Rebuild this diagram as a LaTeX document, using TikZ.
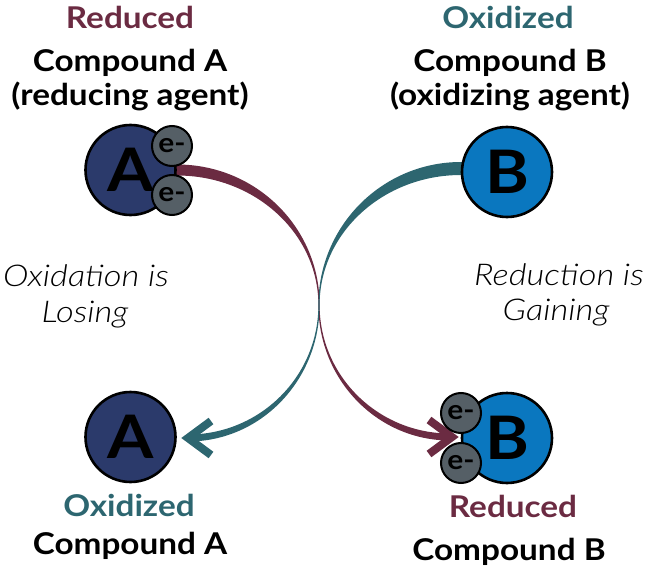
\documentclass[tikz,border=0pt]{standalone}
\usepackage{fontspec}
\setmainfont{Lato}
\newfontfamily\labfont[FakeStretch=1.11]{Lato}
\newfontfamily\itfont[FakeStretch=1.15]{Lato Light}
\definecolor{navyA}{HTML}{2B3A6B}
\definecolor{blueB}{HTML}{0A77BF}
\definecolor{egray}{HTML}{555F66}
\definecolor{maroonc}{HTML}{6B2B42}
\definecolor{tealc}{HTML}{2D6670}
\begin{document}
\begin{tikzpicture}[x=1pt,y=-1pt,
  mol/.style={circle,draw=black,line width=2.6pt,minimum size=90pt,inner sep=0pt,font=\labfont\fontsize{60}{60}\selectfont\bfseries},
  elec/.style={circle,draw=black,line width=2pt,fill=egray,minimum size=40pt,inner sep=0pt,font=\labfont\fontsize{27}{27}\selectfont\bfseries},
  lab/.style={anchor=base,inner sep=0pt,font=\labfont\fontsize{30}{30}\selectfont\bfseries},
  ital/.style={anchor=base,inner sep=0pt,font=\itfont\fontsize{30}{30}\selectfont\itshape},
  head/.style={line width=8pt,line join=miter,line cap=butt}]
\useasboundingbox (0,0) rectangle (649,570);

% tapered connectors
\fill[maroonc] (160,164.5) -- (177,164.5) .. controls (255.8,164.5) and (319.6,227.4) .. (319.6,305)
  .. controls (319.6,376) and (378,433.5) .. (450,433.5) -- (450,440.5)
  .. controls (377.3,440.5) and (318.4,379.8) .. (318.4,305)
  .. controls (318.4,233.5) and (255.1,175.5) .. (177,175.5) -- (160,175.5) -- cycle;
\draw[head,maroonc] (429,420) -- (452,437) -- (429,454);

\fill[tealc] (478,162) -- (461,162) .. controls (382.2,162) and (318.4,226) .. (318.4,305)
  .. controls (318.4,376.5) and (260,434.5) .. (188,434.5) -- (188,441.5)
  .. controls (260.7,441.5) and (319.6,380.4) .. (319.6,305)
  .. controls (319.6,233.2) and (382.9,175) .. (461,175) -- (478,175) -- cycle;
\draw[head,tealc] (211,421) -- (188,438) -- (211,455);

% molecules
\node[mol,fill=navyA] (A1) at (130.5,170) {A};
\node[elec] (e1) at (172,146) {e-};
\node[elec] (e2) at (172,195) {e-};
\node[mol,fill=blueB] (B1) at (507,172) {B};
\node[mol,fill=navyA] (A2) at (130.5,437) {A};
\node[mol,fill=blueB] (B2) at (507,438) {B};
\node[elec] (e3) at (461,413) {e-};
\node[elec] (e4) at (461,463) {e-};

% labels
\node[lab,text=maroonc] (t1) at (130,28) {Reduced};
\node[lab] (t2) at (130,71) {Compound A};
\node[lab] (t3) at (130,105) {(reducing agent)};
\node[lab,text=tealc] (t4) at (508,28) {Oxidized};
\node[lab] (t5) at (510,71) {Compound B};
\node[lab] (t6) at (510,105) {(oxidizing agent)};
\node[lab,text=tealc] (t7) at (129,516) {Oxidized};
\node[lab] (t8) at (130,554) {Compound A};
\node[lab,text=maroonc] (t9) at (513,517) {Reduced};
\node[lab] (t10) at (509,560) {Compound B};
\node[ital] (i1) at (86,286) {Oxidation is};
\node[ital] (i2) at (85,322) {Losing};
\node[ital] (i3) at (559,285) {Reduction is};
\node[ital] (i4) at (556,320) {Gaining};
\end{tikzpicture}
\end{document}
